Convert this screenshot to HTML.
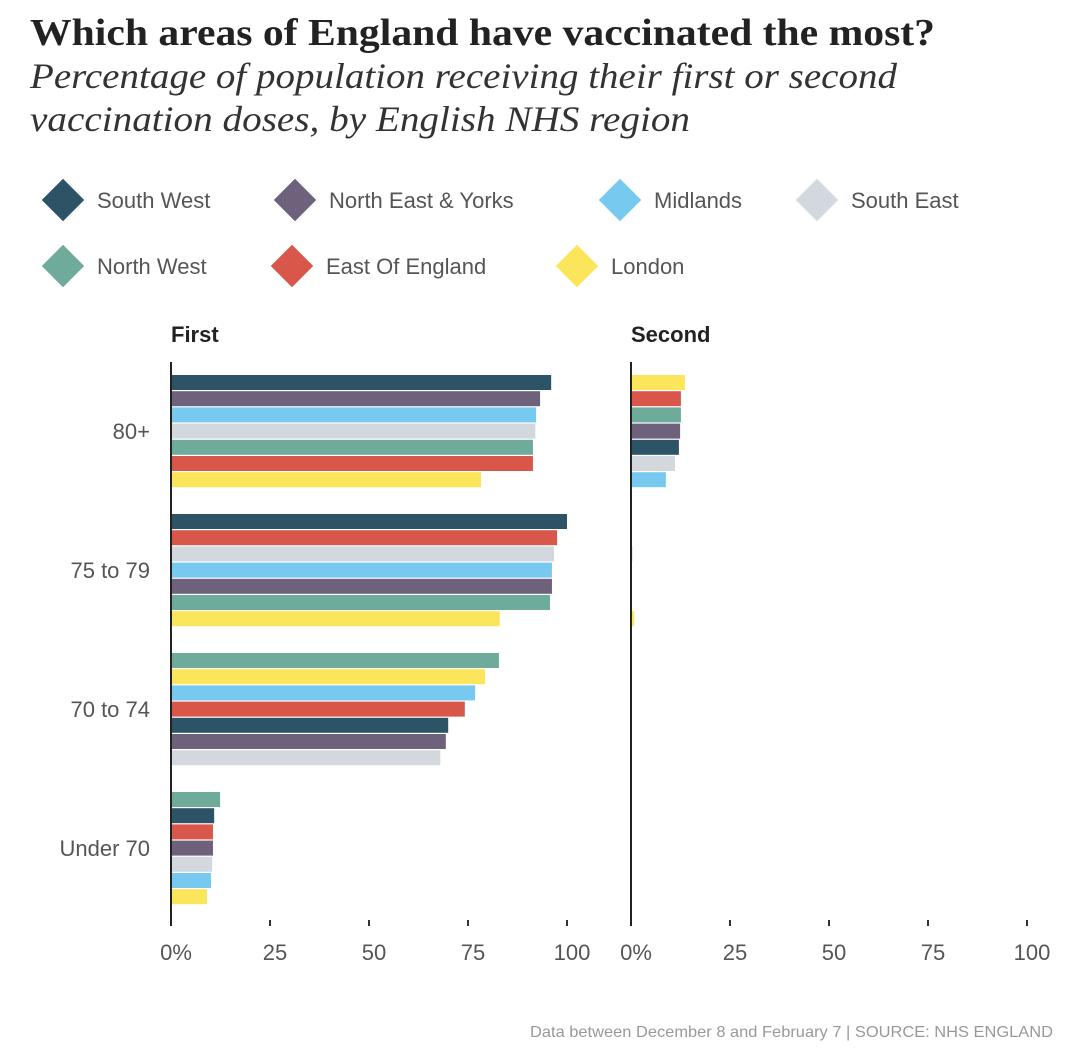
<!DOCTYPE html>
<html><head><meta charset="utf-8"><style>
html,body{margin:0;padding:0;background:#fff;}
svg{display:block;}
.cond{font-family:"Liberation Sans Narrow","Liberation Sans",sans-serif;}
</style></head><body>
<svg id="chart" width="1080" height="1062" viewBox="0 0 1080 1062" xmlns="http://www.w3.org/2000/svg">
<text x="30" y="45" font-family="Liberation Serif,serif" font-weight="bold" font-size="38" fill="#222" textLength="905" lengthAdjust="spacingAndGlyphs">Which areas of England have vaccinated the most?</text>
<text font-family="Liberation Serif,serif" font-style="italic" font-size="36" fill="#333"><tspan x="30" y="88" textLength="867" lengthAdjust="spacingAndGlyphs">Percentage of population receiving their first or second</tspan><tspan x="30" y="131" textLength="660" lengthAdjust="spacingAndGlyphs">vaccination doses, by English NHS region</tspan></text>
<g id="legend"></g>
<g id="plot"></g>
<text x="1053" y="1037" text-anchor="end" class="cond" font-size="16" fill="#999" textLength="523" lengthAdjust="spacingAndGlyphs">Data between December 8 and February 7 | SOURCE: NHS ENGLAND</text>
</svg>
<script>
const regions = ["South West","North East & Yorks","Midlands","South East","North West","East Of England","London"];
const colors = ["#2d5366","#6e617c","#78c9f0","#d3d8de","#6eab9a","#d9574a","#fbe55a"];
const groups = ["80+","75 to 79","70 to 74","Under 70"];
const ticks = [0,25,50,75,100];
// per-group bar order (region indices) and values, first doses
const firstOrder = [[0,1,2,3,4,5,6],[0,5,3,2,1,4,6],[4,6,2,5,0,1,3],[4,0,5,1,3,2,6]];
const firstValues = [[96,93.2,92.2,92,91.4,91.4,78.3],[100,97.5,96.7,96.2,96.2,95.7,83],[82.8,79.3,76.8,74.2,70,69.4,68],[12.4,10.9,10.6,10.6,10.4,10.1,9.1]];
// second doses
const secondOrder = [[6,5,4,1,0,3,2],[0,5,4,3,2,1,6],[4,6,2,5,0,1,3],[4,0,5,1,3,2,6]];
const secondValues = [[13.6,12.6,12.6,12.4,12.1,11.1,8.8],[0.2,0.1,0.3,0.1,0.2,0.1,0.8],[0.1,0.1,0.1,0.1,0.1,0.1,0.1],[0.2,0.2,0.1,0.1,0.1,0.1,0.1]];

const NS="http://www.w3.org/2000/svg";
const leg=document.getElementById('legend');
const plot=document.getElementById('plot');
function mk(tag,attrs,parent){const e=document.createElementNS(NS,tag);for(const k in attrs)e.setAttribute(k,attrs[k]);parent.appendChild(e);return e;}

// legend
const legPos=[[63,200],[295,200],[620,200],[817,200],[63,266],[292,266],[577,266]];
regions.forEach((r,i)=>{
  const g=mk('g',{},leg);
  
  
  const [cx,cy]=legPos[i];
  mk('rect',{x:cx-15,y:cy-15,width:30,height:30,fill:colors[i],transform:`rotate(45 ${cx} ${cy})`},g);
  const t=mk('text',{x:cx+34,y:cy+8,'font-size':22,fill:'#555',class:'cond'},g);
  t.textContent=r;
});

const panels=[{x0:171,title:"First",order:firstOrder,vals:firstValues},{x0:631,title:"Second",order:secondOrder,vals:secondValues}];
const scale=3.96, top0=375, gPitch=139, bPitch=16.2, bH=15;
panels.forEach((p,pi)=>{
  const g=mk('g',{},plot);
  
  
  const xs=v=>p.x0+v*scale;
  const h=mk('text',{x:p.x0,y:342,'font-size':22,'font-weight':'bold',fill:'#222',class:'cond'},g);
  
  
  h.textContent=p.title;
  groups.forEach((gr,gi)=>{
    p.order[gi].forEach((ri,k)=>{
      const v=p.vals[gi][k];
      const b=mk('rect',{x:xs(0),y:top0+gi*gPitch+k*bPitch,width:Math.max(0,xs(v)-xs(0)),height:bH,fill:colors[ri]},g);
      
      
    });
    if(pi===0){
      const t=mk('text',{x:150,y:top0+gi*gPitch+64,'text-anchor':'end','font-size':22,fill:'#555',class:'cond'},g);
      
      
      t.textContent=gr;
    }
  });
  ticks.forEach(tv=>{
    if(tv>0) mk('line',{x1:xs(tv),x2:xs(tv),y1:920,y2:926,stroke:'#333','stroke-width':2},g);
    const t=mk('text',{x:xs(tv)+5,y:960,'text-anchor':'middle','font-size':22,fill:'#555',class:'cond'},g);
    
    
    t.textContent=tv===0?'0%':tv;
  });
  const ax=mk('line',{x1:p.x0,x2:p.x0,y1:362,y2:926,stroke:'#222','stroke-width':2},g);
  
  
});
</script>
</body></html>
